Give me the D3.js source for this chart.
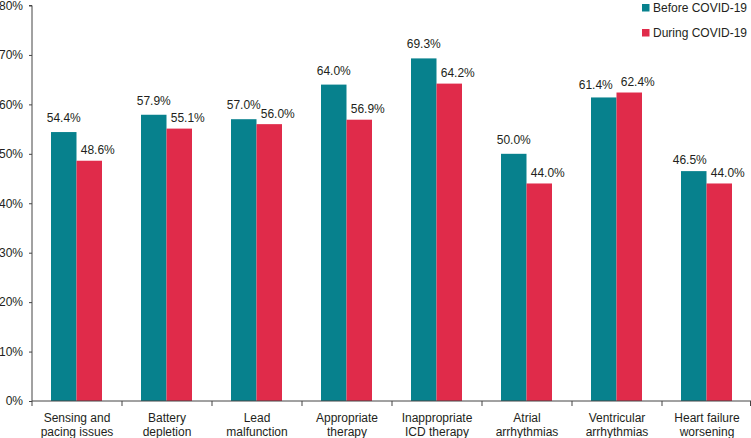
<!DOCTYPE html>
<html><head><meta charset="utf-8">
<script src="https://cdn.jsdelivr.net/npm/d3@7"></script>
<style>body{margin:0;background:#fff}svg{display:block}text{font-family:"Liberation Sans",Arial,sans-serif;fill:#231f20}</style>
</head><body><svg id="c" width="751" height="438"></svg>
<script>
const categories = [["Sensing and","pacing issues"],["Battery","depletion"],["Lead","malfunction"],["Appropriate","therapy"],["Inappropriate","ICD therapy"],["Atrial","arrhythmias"],["Ventricular","arrhythmias"],["Heart failure","worsening"]];
const before = [54.4,57.9,57.0,64.0,69.3,50.0,61.4,46.5];
const during = [48.6,55.1,56.0,56.9,64.2,44.0,62.4,44.0];
const seriesNames = ["Before COVID-19","During COVID-19"];
const colors = ["#07818d","#e02b4a"];
const yTicks = [0,10,20,30,40,50,60,70,80];

const svg = d3.select("#c");
const mLeft = 32, mRight = 752, mTop = 5.5, mBottom = 401;
const x = d3.scaleBand().domain(d3.range(categories.length)).range([mLeft,mRight]).paddingInner(0).paddingOuter(0);
const y = d3.scaleLinear().domain([0,80]).range([mBottom,mTop]);
const bw = 25.5;
// label placement tweaks (as in the original figure)
const nudgeX = {"0-6":-8,"0-7":-4};
const nudgeY = {"0-6":8,"0-7":7};

// bars
const g = svg.append("g");
categories.forEach((c,i)=>{
  const cx = x(i)+x.bandwidth()/2 - 0.5;
  [before[i],during[i]].forEach((v,s)=>{
    const x0 = s===0 ? cx-bw : cx;
    const key = s+"-"+i;
    g.append("rect").attr("x",x0).attr("y",y(v)).attr("width",bw).attr("height",y(0)-y(v)).attr("fill",colors[s]);
    const dx = s===0 ? (nudgeX[key]||0) : 8.5;
    const dy = s===0 ? (nudgeY[key]||10) : 6.5;
    g.append("text").attr("x",x0+bw/2+dx).attr("y",y(v)-dy).attr("text-anchor","middle").attr("font-size",12).text(v.toFixed(1)+"%");
  });
});

// y axis
const ya = svg.append("g").attr("transform",`translate(${mLeft},0)`)
  .call(d3.axisLeft(y).tickValues(yTicks).tickFormat(d=>d+"%").tickSize(3).tickPadding(6));
ya.select(".domain").attr("stroke","#444").attr("d",`M-3,${mTop}H0V${mBottom}`);
ya.selectAll(".tick line").attr("stroke","#444");
ya.selectAll(".tick text").attr("font-size",12).attr("fill","#231f20").style("font-family","Liberation Sans, Arial, sans-serif");

// x axis
const xa = svg.append("g").attr("transform",`translate(0,${mBottom})`);
xa.append("line").attr("x1",mLeft).attr("x2",mRight).attr("stroke","#444");
d3.range(categories.length+1).forEach(i=>{
  const xx = i<categories.length ? x(i) : mRight-1.5;
  xa.append("line").attr("x1",xx).attr("x2",xx).attr("y1",0).attr("y2",5).attr("stroke","#444");
});
categories.forEach((c,i)=>{
  const t = xa.append("text").attr("x",x(i)+x.bandwidth()/2).attr("y",21).attr("text-anchor","middle").attr("font-size",12);
  c.forEach((line,j)=>t.append("tspan").attr("x",x(i)+x.bandwidth()/2).attr("dy",j===0?0:14).text(line));
});

// legend
seriesNames.forEach((n,i)=>{
  const ly = 4 + i*25;
  svg.append("rect").attr("x",642).attr("y",ly).attr("width",7.5).attr("height",7.5).attr("fill",colors[i]);
  svg.append("text").attr("x",653).attr("y",ly+8).attr("font-size",12).text(n);
});
</script></body></html>
